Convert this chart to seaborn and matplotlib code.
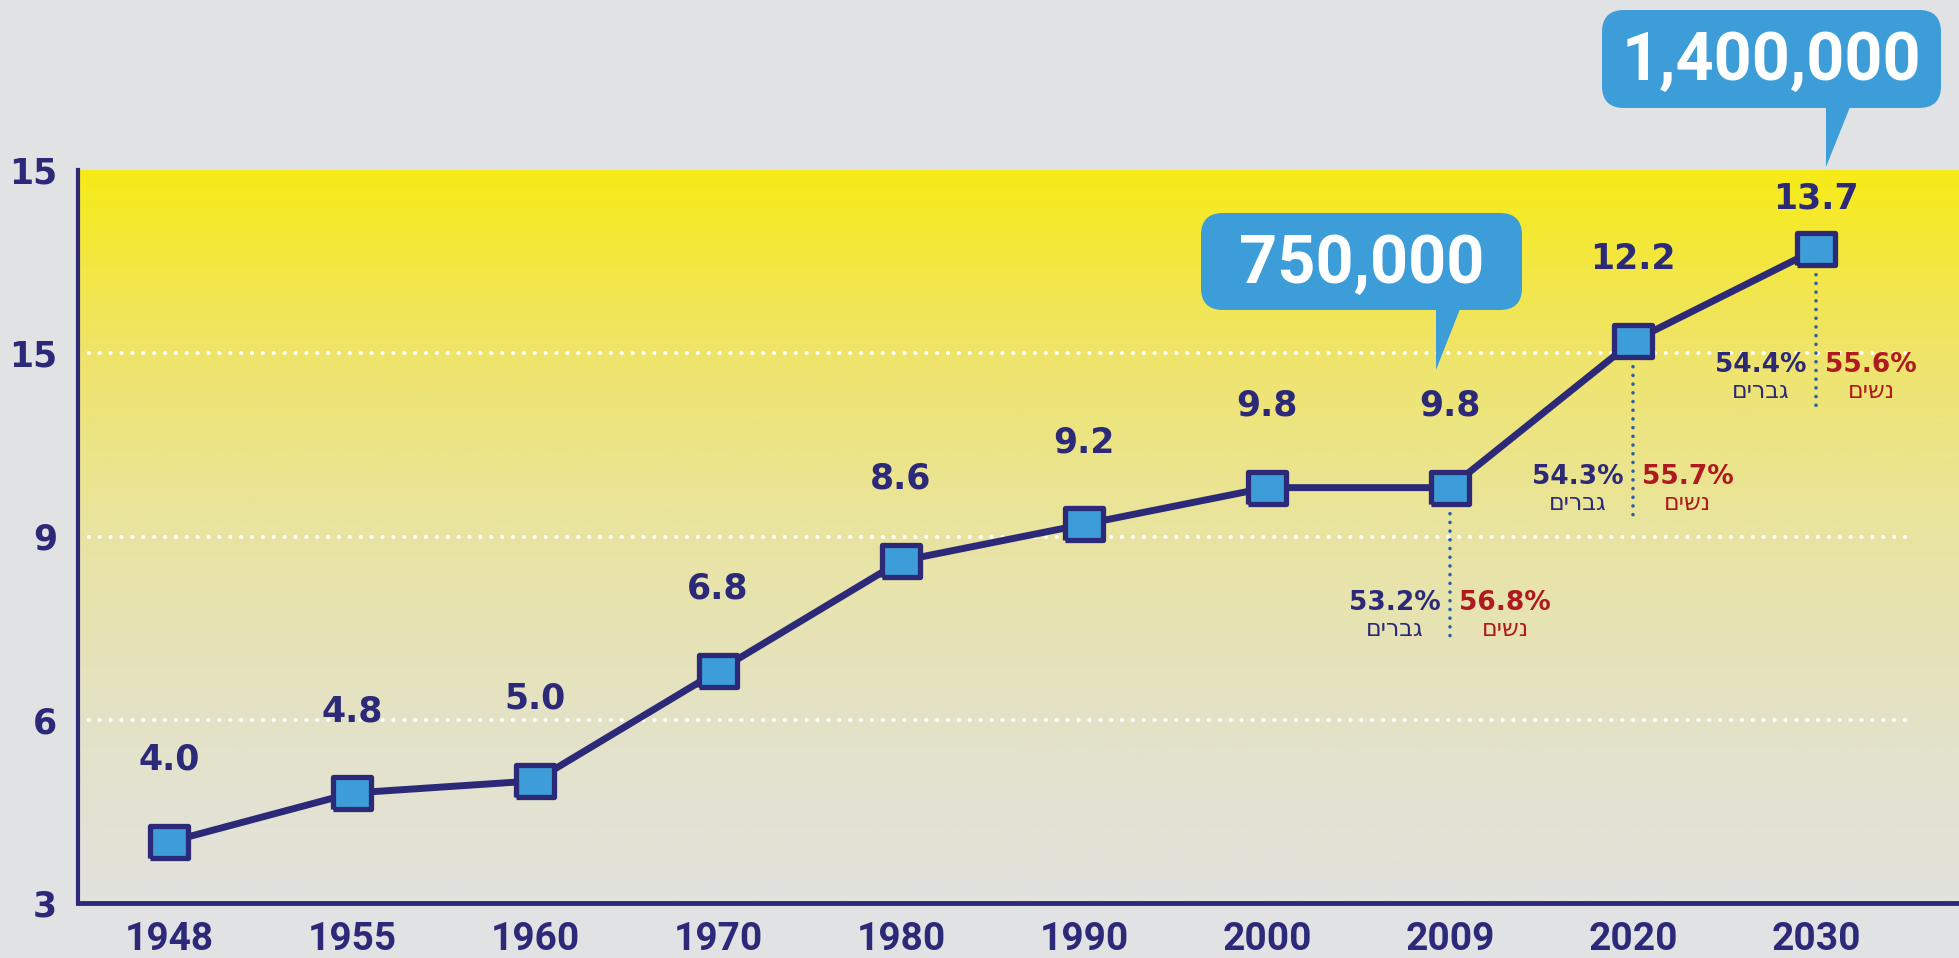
import matplotlib
matplotlib.use('Agg')
import numpy as np
import pandas as pd
import matplotlib.pyplot as plt
import seaborn as sns
from matplotlib.patches import FancyBboxPatch, Polygon
from matplotlib.transforms import IdentityTransform
from matplotlib.colors import LinearSegmentedColormap

# data
years = ['1948', '1955', '1960', '1970', '1980', '1990', '2000', '2009', '2020', '2030']
values = [4.0, 4.8, 5.0, 6.8, 8.6, 9.2, 9.8, 9.8, 12.2, 13.7]
y_ticks = [3, 6, 9, 12, 15]
y_tick_labels = ['3', '6', '9', '15', '15']
grid_levels = [6, 9, 12]

gender_years = ['2009', '2020', '2030']
men_pct = [53.2, 54.3, 54.4]
women_pct = [56.8, 55.7, 55.6]
men_word = 'גברים'
women_word = 'נשים'

callout_texts = ['750,000', '1,400,000']

# colours
NAVY = '#2C2A78'
BLUE = '#3D9DD9'
RED = '#AE1A1F'
DOT_BLUE = '#2B5FA8'
BG = '#E1E2E4'

W, H, DPI = 1959, 958, 100

# layout (pixels)
label_dy = [82, 82, 82, 82, 82, 82, 82, 82, 82, 51]
gender_text_dy = [115, 136, 116]
gender_line_len = [150, 181, 158]
# callout boxes: x0, y0(top), x1, y1(bottom), pointer tip (x, y)
callout_boxes = [(1201, 213, 1522, 310, 1436, 370),
                 (1602, 10, 1941, 108, 1826, 167)]

sns.set_style('white')
plt.rcParams['font.family'] = ['DejaVu Sans']

df = pd.DataFrame({'year': years, 'pos': np.arange(len(years)), 'value': values})

fig = plt.figure(figsize=(W / DPI, H / DPI), dpi=DPI, facecolor=BG)
ax_left, ax_bottom = 78 / W, (H - 903) / H
ax_top = (H - 170) / H
ax = fig.add_axes([ax_left, ax_bottom, 1 - ax_left, ax_top - ax_bottom])
ax.set_facecolor(BG)

x_min, x_max = -91 / 183, (W - 169) / 183
y_min, y_max = 3, 15

# yellow-to-grey gradient in the plot area
grad_cmap = LinearSegmentedColormap.from_list(
    'bg', [(0, '#F7EB18'), (0.25, '#EFE46A'), (0.5, '#E9E4A2'), (0.75, '#E4E2C6'), (1, '#E2E2DF')])
grad = np.linspace(0, 1, 256).reshape(-1, 1)
ax.imshow(grad, cmap=grad_cmap, extent=[x_min, x_max, y_min, y_max], origin='upper',
          aspect='auto', zorder=0)

grid_end = (1909 - 169) / 183
for lvl in grid_levels:
    ax.plot([x_min, grid_end], [lvl, lvl], color='white', lw=3,
            linestyle=(0, (0.01, 2.6)), dash_capstyle='round', zorder=1)

# main line with rectangular markers
rect = [(-1.18, -1), (1.18, -1), (1.18, 1), (-1.18, 1), (-1.18, -1)]
sns.lineplot(data=df, x='pos', y='value', ax=ax, color=NAVY, lw=5,
             marker=rect, markersize=27, markerfacecolor=BLUE,
             markeredgecolor=NAVY, markeredgewidth=3.8, zorder=3)

ax.set_xlim(x_min, x_max)
ax.set_ylim(y_min, y_max)

# value labels
for i, (v, dy) in enumerate(zip(values, label_dy)):
    ax.annotate(f'{v:.1f}', (i, v), xytext=(0, dy), textcoords='offset pixels',
                ha='center', va='center', fontsize=25, fontweight='bold', color=NAVY, zorder=4)

# gender split annotations
ppu = (ax_top - ax_bottom) * H / (y_max - y_min)
for yr, m, w, tdy, ll in zip(gender_years, men_pct, women_pct, gender_text_dy, gender_line_len):
    i = years.index(yr)
    v = values[i]
    ax.plot([i, i], [v - 17 / ppu, v - ll / ppu], color=DOT_BLUE, lw=2.6,
            linestyle=(0, (0.01, 2.4)), dash_capstyle='round', zorder=2)
    ax.annotate(f'{m}%', (i, v), xytext=(-55, -tdy), textcoords='offset pixels',
                ha='center', va='center', fontsize=19, fontweight='bold', color=NAVY)
    ax.annotate(men_word[::-1], (i, v), xytext=(-55, -tdy - 26), textcoords='offset pixels',
                ha='center', va='center', fontsize=17, color=NAVY)
    ax.annotate(f'{w}%', (i, v), xytext=(55, -tdy), textcoords='offset pixels',
                ha='center', va='center', fontsize=19, fontweight='bold', color=RED)
    ax.annotate(women_word[::-1], (i, v), xytext=(55, -tdy - 26), textcoords='offset pixels',
                ha='center', va='center', fontsize=17, color=RED)

# axes styling
sns.despine(ax=ax, top=True, right=True)
for side in ['left', 'bottom']:
    ax.spines[side].set_color(NAVY)
ax.spines['left'].set_linewidth(3)
ax.spines['bottom'].set_linewidth(3.5)
ax.set_yticks(y_ticks)
ax.set_yticklabels(y_tick_labels)
ax.set_xticks(df['pos'])
ax.set_xticklabels(years)
ax.tick_params(axis='y', direction='in', length=29, width=3, color=NAVY, pad=15,
               labelsize=25, labelcolor=NAVY)
ax.tick_params(axis='x', direction='in', length=14, width=2.2, color=NAVY, pad=13,
               labelsize=28, labelcolor=NAVY)
for lab in ax.get_yticklabels():
    lab.set_fontweight('heavy')
for lab in ax.get_xticklabels():
    lab.set_fontweight('bold')
    lab.set_family(['Roboto', 'DejaVu Sans'])
ax.set_xlabel('')
ax.set_ylabel('')
ax.grid(False)

# speech-bubble callouts (pixel coordinates, origin top-left)
ident = IdentityTransform()
for txt, (x0, y0, x1, y1, tx, ty) in zip(callout_texts, callout_boxes):
    box = FancyBboxPatch((x0, H - y1), x1 - x0, y1 - y0,
                         boxstyle='round,pad=0,rounding_size=22',
                         facecolor=BLUE, edgecolor='none', transform=ident)
    fig.add_artist(box)
    tri = Polygon([(tx, H - y1 + 1), (tx + 24, H - y1 + 1), (tx, H - ty)], closed=True,
                  facecolor=BLUE, edgecolor='none', transform=ident)
    fig.add_artist(tri)
    fig.text((x0 + x1) / 2, H - (y0 + 70), txt, transform=ident, ha='center', va='baseline',
             fontsize=48, fontweight='bold', color='white', family=['Roboto', 'DejaVu Sans'])

fig.savefig('out.png', dpi=DPI, facecolor=BG)
